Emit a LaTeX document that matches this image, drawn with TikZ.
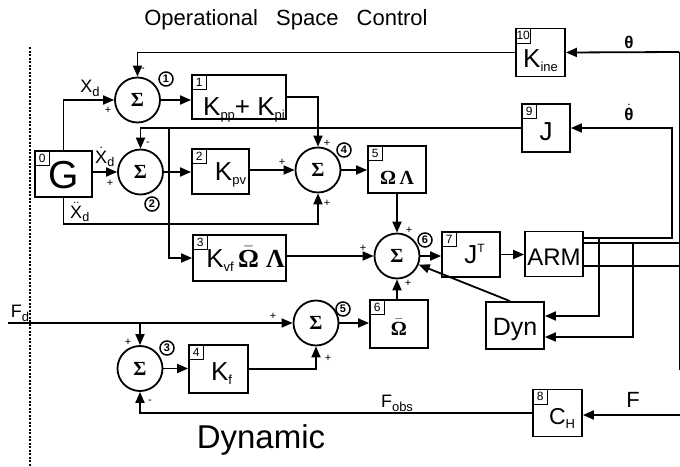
\documentclass[tikz,border=0pt]{standalone}
\usepackage{amsmath}
\usepackage{fontspec}
\setmainfont{Liberation Sans}
\newfontfamily\grk{Liberation Serif}
\usetikzlibrary{arrows.meta,positioning}

\newcommand{\sbs}[1]{\raisebox{-4pt}{\fontsize{13}{13}\selectfont #1}}
\newcommand{\sps}[1]{\raisebox{11pt}{\fontsize{12}{12}\selectfont #1}}
\newcommand{\Omg}{{\grk\bfseries Ω}}
\newcommand{\Lmb}{{\grk\bfseries Λ}}
\newcommand{\Omgb}{$\bar{\text{\Omg}}$}

\tikzset{
  blk/.style={draw, line width=1.8pt, inner sep=0pt, text height=20pt, text depth=0pt,
    font=\fontsize{26}{26}\selectfont},
  idx/.style={draw, line width=1.2pt, minimum size=15pt, inner sep=0pt, anchor=north west,
    font=\fontsize{12}{12}\selectfont},
  sum/.style={draw, circle, line width=1.8pt, minimum size=45pt, inner sep=0pt,
    font=\grk\bfseries\fontsize{20}{20}\selectfont},
  tag/.style={draw, circle, line width=1.5pt, minimum size=14pt, inner sep=0pt,
    font=\bfseries\fontsize{11}{11}\selectfont},
  sgn/.style={inner sep=0pt, font=\fontsize{11}{11}\selectfont},
  lbl/.style={inner sep=0pt, font=\fontsize{18}{18}\selectfont},
  line/.style={line width=1.8pt},
  wire/.style={line width=1.8pt, -{Triangle[length=11pt,width=9pt]}}
}

\begin{document}
\begin{tikzpicture}[x=1pt,y=-1pt]
  \useasboundingbox (0,0) rectangle (680,466);

  % headings and the dotted border
  \node[font=\fontsize{22}{22}\selectfont] (ttl) at (286,20)
    {Operational\hspace{12pt} Space\hspace{12pt} Control};
  \node[font=\fontsize{33}{33}\selectfont] (dynttl) at (261,440) {Dynamic};
  \draw[line width=1.6pt, dash pattern=on 2pt off 1.5pt] (30,47) -- (30,466);

  % blocks
  \node[blk, minimum width=57pt, minimum height=46pt, text height=28pt,
    font=\fontsize{39}{39}\selectfont] (G) at (63.5,174) {G};
  \node[blk, minimum width=94pt, minimum height=44pt, text height=36pt] (b1) at (239,97)
    {\hspace{10pt}K\sbs{pp}+ K\sbs{pi}};
  \node[blk, minimum width=57pt, minimum height=45pt, text height=17pt] (b2) at (220.5,171.5)
    {\hspace{20pt}K\sbs{pv}};
  \node[blk, minimum width=93pt, minimum height=46pt, text height=18pt] (b3) at (239.5,258)
    {\hspace{12pt}K\sbs{vf}\,\Omgb\ \Lmb};
  \node[blk, minimum width=59pt, minimum height=48pt, text height=22pt] (b4) at (218.5,369)
    {\hspace{6pt}K\sbs{f}};
  \node[blk, minimum width=58pt, minimum height=47pt, text height=29pt,
    font=\fontsize{20}{20}\selectfont] (b5) at (397,169.5) {\Omg\,\Lmb};
  \node[blk, minimum width=58pt, minimum height=48pt, text height=22pt,
    font=\fontsize{20}{20}\selectfont] (b6) at (399,324) {\Omgb};
  \node[blk, minimum width=58pt, minimum height=45pt, text height=17pt] (b7) at (471,254.5)
    {\hspace{7pt}J\sps{T}};
  \node[blk, minimum width=58pt, minimum height=45pt, text height=23pt,
    font=\fontsize{24}{24}\selectfont] (arm) at (554,254) {ARM};
  \node[blk, minimum width=58pt, minimum height=47pt, text height=19pt,
    font=\fontsize{25}{25}\selectfont] (dyn) at (515,325.5) {Dyn};
  \node[blk, minimum width=49pt, minimum height=47pt, text height=23pt,
    font=\fontsize{23}{23}\selectfont] (b8) at (557.5,413) {\hspace{9pt}C\sbs{H}};
  \node[blk, minimum width=48pt, minimum height=48pt, text height=24pt] (b9) at (546,128)
    {J\hspace{14pt}};
  \node[blk, minimum width=49pt, minimum height=48pt, text height=30pt] (b10) at (540.5,52.5)
    {K\sbs{ine}};

  \foreach \b/\n in {G/0,b1/1,b2/2,b3/3,b4/4,b5/5,b6/6,b7/7,b8/8,b9/9,b10/10}
    \node[idx] (i\n) at (\b.north west) {\n};

  % summing junctions
  \node[sum] (s1) at (137.5,100) {Σ};
  \node[sum] (s2) at (140.5,172) {Σ};
  \node[sum] (s3) at (140,368.5) {Σ};
  \node[sum] (s4) at (318,170) {Σ};
  \node[sum] (s5) at (316,323) {Σ};
  \node[sum] (s6) at (397,256) {Σ};

  \foreach \x/\y/\n in {166/79/1,152/204/2,167/348/3,344/150/4,343/309/5,425/240/6}
    \node[tag] (t\n) at (\x,\y) {\n};

  % signs
  \foreach \x/\y/\s [count=\i] in {143/70/-,108/110/+,148/144/-,110/183/+,
      282/162/+,327/143/+,327/203/+,363/248/+,409/230/+,408/283/+,425/268/+,
      273/316/+,328/358/+,128/342/+,150/402/-}
    \node[sgn] (sg\i) at (\x,\y) {\s};

  % signals
  \node[lbl] (lxd) at (90,88) {X\sbs{d}};
  \node[lbl] (lxdd) at (105,157) {$\dot{\text{X}}_{\text{d}}$};
  \node[lbl] (lxddd) at (80,212) {$\ddot{\text{X}}_{\text{d}}$};
  \node[lbl, font=\bfseries\fontsize{17}{17}\selectfont] (lth) at (629,42) {θ};
  \node[lbl, font=\bfseries\fontsize{17}{17}\selectfont] (lthd) at (629,112) {$\dot{\text{θ}}$};
  \node[lbl] (lfd) at (20,313) {F\sbs{d}};
  \node[lbl] (lfo) at (397,403) {F\sbs{obs}};
  \node[lbl, font=\fontsize{22}{22}\selectfont] (lf) at (633,400) {F};

  \coordinate (thin) at (679,52);
  \coordinate (ao1) at (arm.east |- 0,238);
  \coordinate (ao2) at (arm.east |- 0,243);
  \coordinate (ao3) at (arm.east |- 0,266);
  \coordinate (jv) at (169,128);
  \coordinate (fd) at (8,323);
  \coordinate (jf) at (140,323);
  \coordinate (fin) at (680,415);

  % connections
  \draw[line width=1pt] (thin) -- (679,370);
  \draw[wire] (thin) -- (b10.east);
  \draw[wire] (b10.west) -| (s1.north);
  \draw[wire] (G.north) |- (s1.west);
  \draw[wire] (G.east |- s2.west) -- (s2.west);
  \draw[wire] (G.south) -- ++(0,26) -| (s4.south);
  \draw[wire] (s1.east) -- (s1.east -| b1.west);
  \draw[wire] (b1.east) -| (s4.north);
  \draw[wire] (s2.east) -- (s2.east -| b2.west);
  \draw[wire] (s4.west -| b2.east) -- (s4.west);
  \draw[wire] (s4.east) -- (s4.east -| b5.west);
  \draw[wire] (b5.south) -- (s6.north);
  \draw[wire] (s6.west -| b3.east) -- (s6.west);
  \draw[wire] (b6.north -| s6.south) -- (s6.south);
  \draw[wire] (s6.east) -- (s6.east -| b7.west);
  \draw[wire] (b7.east) -- (b7.east -| arm.west);
  \draw[wire] (ao1) -- (672,238) |- (b9.east);
  \draw[wire] (b9.west) -| (s2.north);
  \draw[wire] (jv) |- (b3.west);
  \draw[line] (ao2) -- (680,243);
  \draw[line] (ao3) -- (680,266);
  \draw[wire] (599,238) |- (dyn.east |- 0,316);
  \draw[wire] (633,243) |- (dyn.east |- 0,337);
  \draw[wire] ([xshift=-5pt]dyn.north) -- (s6);
  \draw[wire] (fd) -- (s5.west);
  \draw[wire] (jf) -- (s3.north);
  \draw[wire] (s3.east) -- (s3.east -| b4.west);
  \draw[wire] (b4.east) -| (s5.south);
  \draw[wire] (s5.east) -- (s5.east -| b6.west);
  \draw[wire] (fin) -- (fin -| b8.east);
  \draw[wire] (b8.west) -| (s3.south);
\end{tikzpicture}
\end{document}
